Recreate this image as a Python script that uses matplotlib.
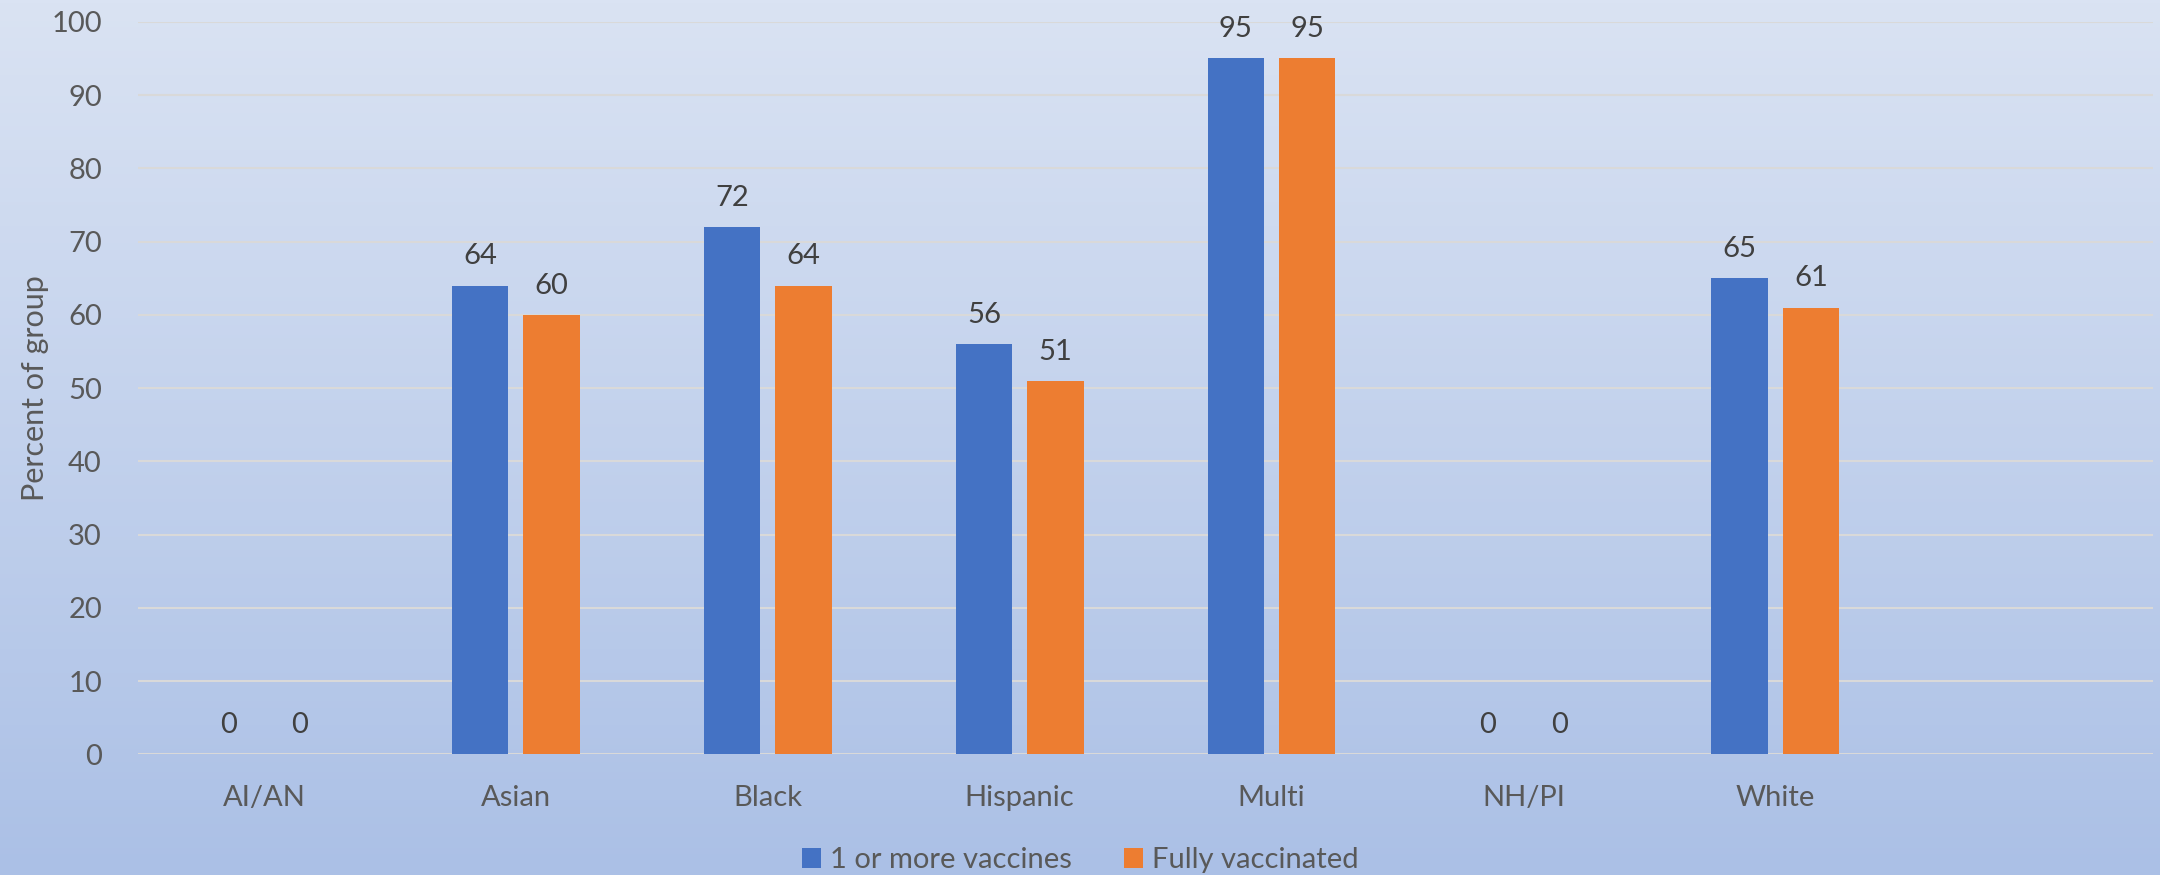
import numpy as np
import matplotlib
matplotlib.use("Agg")
import matplotlib.pyplot as plt
from matplotlib.colors import LinearSegmentedColormap

# vaccination rates by group (percent)
groups = ["AI/AN", "Asian", "Black", "Hispanic", "Multi", "NH/PI", "White", ""]
one_or_more = [0, 64, 72, 56, 95, 0, 65, None]
fully_vax = [0, 60, 64, 51, 95, 0, 61, None]
series_names = ["1 or more vaccines", "Fully vaccinated"]
yticks = [0, 10, 20, 30, 40, 50, 60, 70, 80, 90, 100]

blue = "#4472c4"
orange = "#ed7d31"

plt.rcParams['font.family'] = ['Lato', 'DejaVu Sans']

fig = plt.figure(figsize=(21.6, 8.75), dpi=100)

# gradient background
bg = fig.add_axes([0, 0, 1, 1], zorder=0)
grad = LinearSegmentedColormap.from_list("bg", ["#dae3f3", "#abc0e6"])
bg.imshow(np.linspace(0, 1, 256).reshape(-1, 1), aspect="auto", cmap=grad,
          extent=[0, 1, 0, 1])
bg.axis("off")

ax = fig.add_axes([0.0639, 0.138, 0.9329, 0.837], zorder=1)
ax.patch.set_alpha(0)

x = np.arange(len(groups))
w = 0.224
off = 0.142

vals1 = [v if v is not None else 0 for v in one_or_more]
vals2 = [v if v is not None else 0 for v in fully_vax]
b1 = ax.bar(x - off, vals1, w, color=blue, label=series_names[0], zorder=3)
b2 = ax.bar(x + off, vals2, w, color=orange, label=series_names[1], zorder=3)

for i in range(len(groups)):
    for xi, v in [(x[i] - off, one_or_more[i]), (x[i] + off, fully_vax[i])]:
        if v is None:
            continue
        ax.annotate(str(v), (xi, v), xytext=(0, 21), textcoords="offset points",
                    ha="center", va="center", fontsize=21, color="#404040")

ax.set_xlim(-0.5, len(groups) - 0.5)
ax.set_ylim(0, 100)
ax.set_yticks(yticks)
ax.set_xticks(x)
ax.set_xticklabels(groups)
ax.grid(axis="y", color="#d9d9d9", linewidth=1.5, zorder=0)
ax.set_axisbelow(True)
for s in ax.spines.values():
    s.set_visible(False)
ax.tick_params(axis="both", length=0, labelsize=21, labelcolor="#595959")
ax.tick_params(axis="x", pad=22)
ax.tick_params(axis="y", pad=26)
ax.set_ylabel("Percent of group", fontsize=22, color="#595959", labelpad=2)

fig.legend(handles=[b1, b2], loc="lower center", ncol=2, frameon=False,
           bbox_to_anchor=(0.5, -0.028), fontsize=21, labelcolor="#595959",
           handlelength=0.65, handleheight=0.65, handletextpad=0.3, columnspacing=1.8)

fig.savefig("out.png", dpi=100)
